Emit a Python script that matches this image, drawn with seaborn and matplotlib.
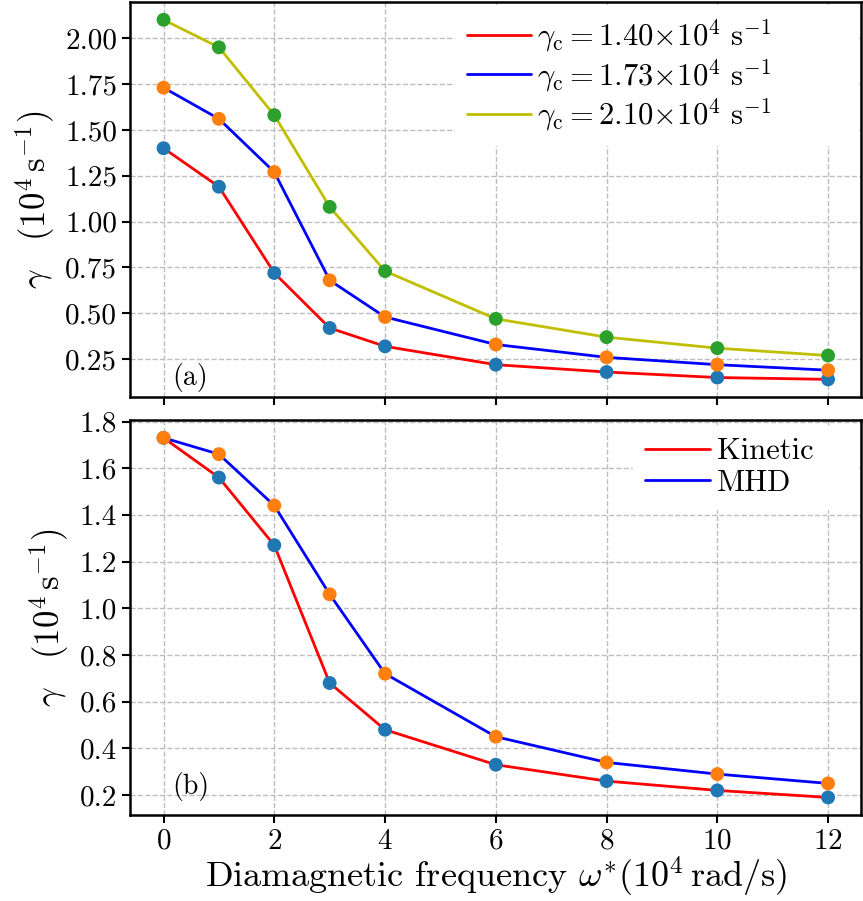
import numpy as np
import matplotlib
matplotlib.use("Agg")
import matplotlib.pyplot as plt
import seaborn as sns

# data
omega = [0, 1, 2, 3, 4, 6, 8, 10, 12]

gamma_140 = [1.40, 1.19, 0.72, 0.42, 0.32, 0.22, 0.18, 0.15, 0.14]
gamma_173 = [1.73, 1.56, 1.27, 0.68, 0.48, 0.33, 0.26, 0.22, 0.19]
gamma_210 = [2.10, 1.95, 1.58, 1.08, 0.73, 0.47, 0.37, 0.31, 0.27]

kinetic = [1.73, 1.56, 1.27, 0.68, 0.48, 0.33, 0.26, 0.22, 0.19]
mhd = [1.73, 1.66, 1.44, 1.06, 0.72, 0.45, 0.34, 0.29, 0.25]

labels_a = [r"$\gamma_{\rm c} = 1.40{\times}10^4\ {\rm s}^{-1}$",
            r"$\gamma_{\rm c} = 1.73{\times}10^4\ {\rm s}^{-1}$",
            r"$\gamma_{\rm c} = 2.10{\times}10^4\ {\rm s}^{-1}$"]
labels_b = ["Kinetic", "MHD"]

sns.set_style("ticks")
plt.rcParams["font.family"] = "serif"
plt.rcParams["font.serif"] = ["cmr10"]
plt.rcParams["mathtext.fontset"] = "cm"
plt.rcParams["axes.formatter.use_mathtext"] = True
plt.rcParams["axes.unicode_minus"] = False
plt.rcParams["axes.edgecolor"] = "black"
plt.rcParams["text.color"] = "black"
plt.rcParams["axes.labelcolor"] = "black"
plt.rcParams["xtick.color"] = "black"
plt.rcParams["ytick.color"] = "black"

fig = plt.figure(figsize=(8.63, 9.01), dpi=100)
ax1 = fig.add_axes([0.151, 0.559, 0.847, 0.439])
ax2 = fig.add_axes([0.151, 0.095, 0.847, 0.439], sharex=ax1)

line_colors = ["red", "blue", "y"]
dot_colors = ["C0", "C1", "C2"]


def draw(ax, series, labels):
    for i, (ys, lab) in enumerate(zip(series, labels)):
        sns.lineplot(x=omega, y=ys, ax=ax, color=line_colors[i], lw=2,
                     label=lab, zorder=2)
    for i, ys in enumerate(series):
        sns.scatterplot(x=omega, y=ys, ax=ax, color=dot_colors[i], s=100,
                        edgecolor="none", zorder=3)
    ax.grid(True, ls="--", color="#bdbdbd", lw=1)
    for sp in ax.spines.values():
        sp.set_linewidth(1.8)
    ax.tick_params(labelsize=21, width=1.5, length=6)
    ax.set_ylabel(r"$\gamma\ \ \ (10^4\,{\rm s}^{-1})$", fontsize=25,
                  labelpad=6)


draw(ax1, [gamma_140, gamma_173, gamma_210], labels_a)
draw(ax2, [kinetic, mhd], labels_b)

ax1.set_yticks([0.25, 0.5, 0.75, 1.0, 1.25, 1.5, 1.75, 2.0])
ax1.yaxis.set_major_formatter(matplotlib.ticker.FormatStrFormatter("%.2f"))
ax2.set_yticks([0.2, 0.4, 0.6, 0.8, 1.0, 1.2, 1.4, 1.6, 1.8])
ax2.yaxis.set_major_formatter(matplotlib.ticker.FormatStrFormatter("%.1f"))
ax2.set_xticks([0, 2, 4, 6, 8, 10, 12])
plt.setp(ax1.get_xticklabels(), visible=False)

ax1.legend(loc="upper left", bbox_to_anchor=(0.444, 0.0, 0.55, 0.992),
           mode="expand", fontsize=22,
           frameon=True, framealpha=1, edgecolor="white", fancybox=False,
           handlelength=2.1, handletextpad=0.2, labelspacing=0.08,
           borderaxespad=0)
ax2.legend(loc="upper left", bbox_to_anchor=(0.688, 0.0, 0.305, 0.985),
           mode="expand", fontsize=22,
           frameon=True, framealpha=1, edgecolor="white", fancybox=False,
           handlelength=2.1, handletextpad=0.25, labelspacing=0.12,
           borderaxespad=0)

ax1.text(0.058, 0.03, "(a)", transform=ax1.transAxes, fontsize=20)
ax2.text(0.058, 0.055, "(b)", transform=ax2.transAxes, fontsize=20)

ax2.set_xlabel(r"Diamagnetic frequency $\omega^{*}(10^4\,{\rm rad/s})$",
               fontsize=26, labelpad=0)

fig.savefig("out.png", dpi=100)
